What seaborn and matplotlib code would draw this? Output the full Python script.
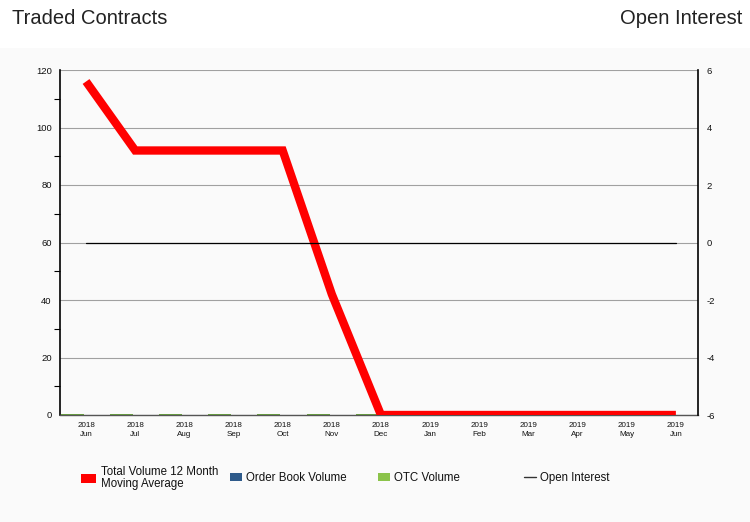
import matplotlib
matplotlib.use("Agg")
import matplotlib.pyplot as plt
import seaborn as sns
import pandas as pd
import numpy as np
from matplotlib.patches import Rectangle
from matplotlib.lines import Line2D
from matplotlib.patches import Patch

months = ["2018\nJun", "2018\nJul", "2018\nAug", "2018\nSep", "2018\nOct", "2018\nNov",
          "2018\nDec", "2019\nJan", "2019\nFeb", "2019\nMar", "2019\nApr", "2019\nMay", "2019\nJun"]
total_ma = [116, 92, 92, 92, 92, 42, 0, 0, 0, 0, 0, 0, 0]
order_book = [0, 0, 0, 0, 0, 0, 0, 0, 0, 0, 0, 0, 0]
otc_volume = [0, 0, 0, 0, 0, 0, 0, 0, 0, 0, 0, 0, 0]
open_interest = [0, 0, 0, 0, 0, 0, 0, 0, 0, 0, 0, 0, 0]

sns.set_theme(style="white")
plt.rcParams['font.family'] = ['Liberation Sans', 'DejaVu Sans']
plt.rcParams['axes.unicode_minus'] = False

df = pd.DataFrame({"idx": np.arange(len(months)), "month": months, "total": total_ma,
                   "ob": order_book, "otc": otc_volume, "oi": open_interest})

fig = plt.figure(figsize=(7.5, 5.22), dpi=100)
fig.patch.set_facecolor("white")
fig.add_artist(Rectangle((0, 0), 1, (522 - 48) / 522, transform=fig.transFigure,
                         facecolor="#fafafa", edgecolor="none", zorder=0))

ax = fig.add_axes([60 / 750, (522 - 415) / 522, (698 - 60) / 750, (415 - 70) / 522])
ax.set_facecolor("#fafafa")
ax2 = ax.twinx()

# bars (zero-height, visible as edges)
ax.bar(df["idx"] + 0.2, df["ob"], width=0.47, color="#2e5a8a", edgecolor="#2e5a8a", linewidth=0, zorder=2)
ax.bar(df["idx"] - 0.28, df["otc"], width=0.47, color="#8bc34a", edgecolor="#5aa02a", linewidth=1.3, zorder=2)

sns.lineplot(data=df, x="idx", y="total", ax=ax, color="#ff0000", linewidth=6,
             zorder=5, legend=False)
ax.lines[-1].set_solid_joinstyle("miter")
ax.lines[-1].set_solid_capstyle("butt")
sns.lineplot(data=df, x="idx", y="oi", ax=ax2, color="black", linewidth=0.9, legend=False)

ax.set_xlim(-0.53, 12.45)
ax.set_ylim(0, 120)
ax2.set_ylim(-6, 6)

ax.set_yticks(range(0, 121, 20))
ax.set_yticks(range(10, 120, 20), minor=True)
ax.yaxis.grid(True, which="major", color="#a0a0a0", linewidth=0.8)
ax.set_axisbelow(True)
ax.tick_params(axis="y", which="major", length=0, labelsize=6.8, colors="#111111", pad=6)
ax.tick_params(axis="y", which="minor", length=4, width=0.8, color="black", left=True)
ax2.set_yticks(range(-6, 7, 2))
ax2.tick_params(axis="y", length=0, labelsize=6.8, colors="#111111", pad=6)

ax.set_xticks(df["idx"])
ax.set_xticklabels(months, fontsize=5.8, color="#111111", linespacing=1.5)
ax.tick_params(axis="x", length=0, pad=5)

ax.set_xlabel("")
ax.set_ylabel("")
ax2.set_ylabel("")

for a in (ax, ax2):
    for s in a.spines.values():
        s.set_visible(False)
ax.spines["left"].set_visible(True)
ax.spines["left"].set_color("black")
ax.spines["left"].set_linewidth(1.2)
ax2.spines["right"].set_visible(True)
ax2.spines["right"].set_color("black")
ax2.spines["right"].set_linewidth(1.2)
ax.spines["bottom"].set_visible(True)
ax.spines["bottom"].set_color("#555555")
ax.spines["bottom"].set_linewidth(1)

fig.text(12 / 750, 1 - 18 / 522, "Traded Contracts", fontsize=14.5, va="center", ha="left",
         color="#222222")
fig.text(742 / 750, 1 - 18 / 522, "Open Interest", fontsize=14.5, va="center", ha="right",
         color="#222222")

handles = [Patch(facecolor="#ff0000", edgecolor="none"),
           Patch(facecolor="#2e5a8a", edgecolor="none"),
           Patch(facecolor="#8bc34a", edgecolor="none"),
           Line2D([0], [0], color="#333333", linewidth=1)]
labels = ["Total Volume 12 Month\nMoving Average", "Order Book Volume", "OTC Volume", "Open Interest"]
xs = [81, 230, 378, 524]
for h, l, x in zip(handles, labels, xs):
    leg = fig.legend([h], [l], loc="center left", bbox_to_anchor=(x / 750, 1 - 478 / 522),
                     frameon=False, fontsize=8.3, handlelength=1.0 if x != 81 else 1.3,
                     handleheight=0.8, handletextpad=0.4, borderpad=0, borderaxespad=0,
                     labelcolor="#111111")
    if x == 81:
        for t in leg.get_texts():
            t.set_linespacing(0.95)

fig.savefig("out.png", dpi=100)
